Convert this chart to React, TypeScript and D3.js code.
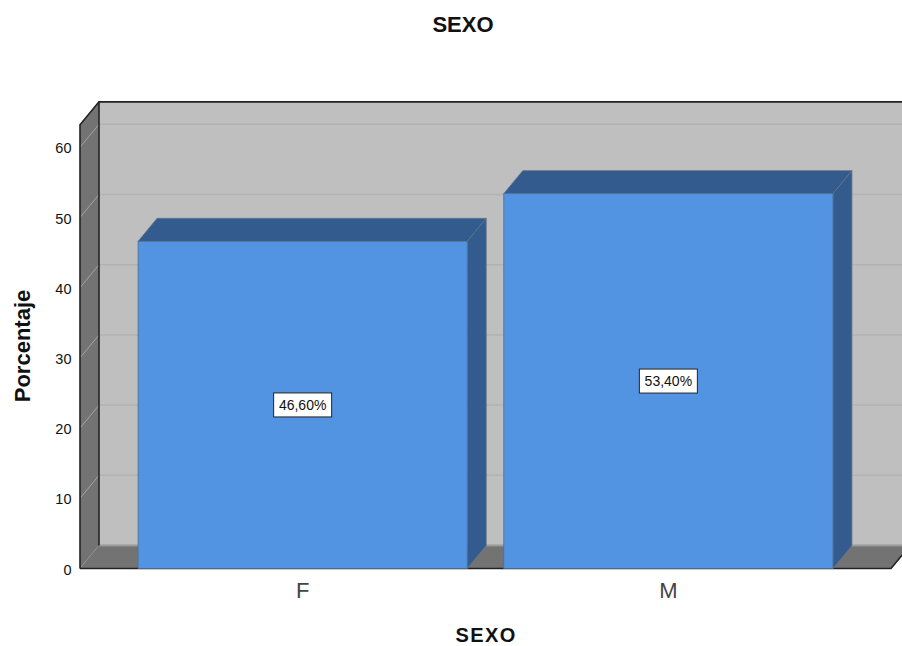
import React from "react";
import * as d3 from "d3";

const categories = ["F", "M"];
const percentages = [46.6, 53.4];
const valueLabels = ["46,60%", "53,40%"];
const yTicks = [0, 10, 20, 30, 40, 50, 60];

const width = 902;
const height = 646;
const depthX = 19;
const depthY = 23;
const font = "'Liberation Sans', Arial, sans-serif";

export default function App() {
  // front plane of the 3D box
  const left = 80;
  const right = 891;
  const y = d3.scaleLinear().domain([0, 60]).range([568.5, 147.3]);
  const x = d3.scaleBand<string>()
    .domain(categories)
    .range([101.5, 869.5])
    .paddingInner(0.1)
    .paddingOuter(0.1);

  const y0 = y(0);
  const yTop = y(63.2);
  const poly = (pts: number[][]) => pts.map(p => p.join(",")).join(" ");

  return (
    <svg
      width={width}
      height={height}
      viewBox={`0 0 ${width} ${height}`}
      style={{ position: "fixed", left: 0, top: 0, background: "#fff", fontFamily: font }}
    >
      {/* back wall */}
      <rect x={left + depthX} y={yTop - depthY} width={width} height={y0 - yTop} fill="#bfbfbf" />
      {yTicks.slice(1).map(t => (
        <line key={t} x1={left + depthX} x2={width} y1={y(t) - depthY} y2={y(t) - depthY} stroke="#b2b2b2" strokeWidth={1.5} />
      ))}

      {/* left wall */}
      <polygon
        points={poly([[left, yTop], [left + depthX, yTop - depthY], [left + depthX, y0 - depthY], [left, y0]])}
        fill="#737373"
      />
      {yTicks.map(t => (
        <line key={t} x1={left} x2={left + depthX} y1={y(t)} y2={y(t) - depthY} stroke="#a3a3a3" strokeWidth={1} />
      ))}

      {/* floor */}
      <polygon
        points={poly([[left, y0], [left + depthX, y0 - depthY], [right + depthX, y0 - depthY], [right, y0]])}
        fill="#737373"
      />
      <line x1={left + depthX} x2={width} y1={y0 - depthY} y2={y0 - depthY} stroke="#9a9a9a" strokeWidth={2} />

      {/* box edges */}
      <path
        d={`M${left},${y0}V${yTop}L${left + depthX},${yTop - depthY}H${width}`}
        fill="none"
        stroke="#222"
        strokeWidth={1.6}
      />
      <line x1={left + depthX} x2={left + depthX} y1={yTop - depthY} y2={y0 - depthY} stroke="#222" strokeWidth={1.6} />
      <path d={`M${left},${y0}H${right}L${right + depthX},${y0 - depthY}`} fill="none" stroke="#222" strokeWidth={1.6} />

      {/* bars */}
      {categories.map((c, i) => {
        const bx = x(c) as number;
        const bw = x.bandwidth();
        const by = y(percentages[i]);
        return (
          <g key={c}>
            <polygon
              points={poly([[bx, by], [bx + depthX, by - depthY], [bx + bw + depthX, by - depthY], [bx + bw, by]])}
              fill="#335b8d"
              stroke="#5f7389"
              strokeWidth={0.8}
            />
            <polygon
              points={poly([[bx + bw, by], [bx + bw + depthX, by - depthY], [bx + bw + depthX, y0 - depthY], [bx + bw, y0]])}
              fill="#335b8d"
              stroke="#5f7389"
              strokeWidth={0.8}
            />
            <rect x={bx} y={by} width={bw} height={y0 - by} fill="#5294e2" stroke="#4f6f94" strokeWidth={0.8} />
          </g>
        );
      })}

      {/* value labels */}
      {categories.map((c, i) => {
        const cx = (x(c) as number) + x.bandwidth() / 2;
        const cy = y(percentages[i] / 2);
        return (
          <g key={c}>
            <rect x={cx - 29} y={cy - 12} width={58} height={24} fill="#fff" stroke="#222" strokeWidth={1} />
            <text x={cx} y={cy + 5} textAnchor="middle" fontSize={14} fill="#111">
              {valueLabels[i]}
            </text>
          </g>
        );
      })}

      {/* y axis tick labels */}
      {yTicks.map(t => (
        <text key={t} x={71.5} y={y(t) + 6} textAnchor="end" fontSize={14.5} fill="#111">
          {t}
        </text>
      ))}

      {/* x axis category labels */}
      {categories.map(c => (
        <text key={c} x={(x(c) as number) + x.bandwidth() / 2} y={598} textAnchor="middle" fontSize={22} fill="#444">
          {c}
        </text>
      ))}

      <text x={463} y={32} textAnchor="middle" fontSize={22} fontWeight="bold" fill="#111">SEXO</text>
      {/* kept a touch smaller than the top title so the descent stays inside the page */}
      <text x={486} y={641.5} textAnchor="middle" fontSize={20} letterSpacing={1.4} fontWeight="bold" fill="#111">SEXO</text>
      <text transform="translate(30,346) rotate(-90)" textAnchor="middle" fontSize={22} fontWeight="bold" fill="#111">
        Porcentaje
      </text>
    </svg>
  );
}
